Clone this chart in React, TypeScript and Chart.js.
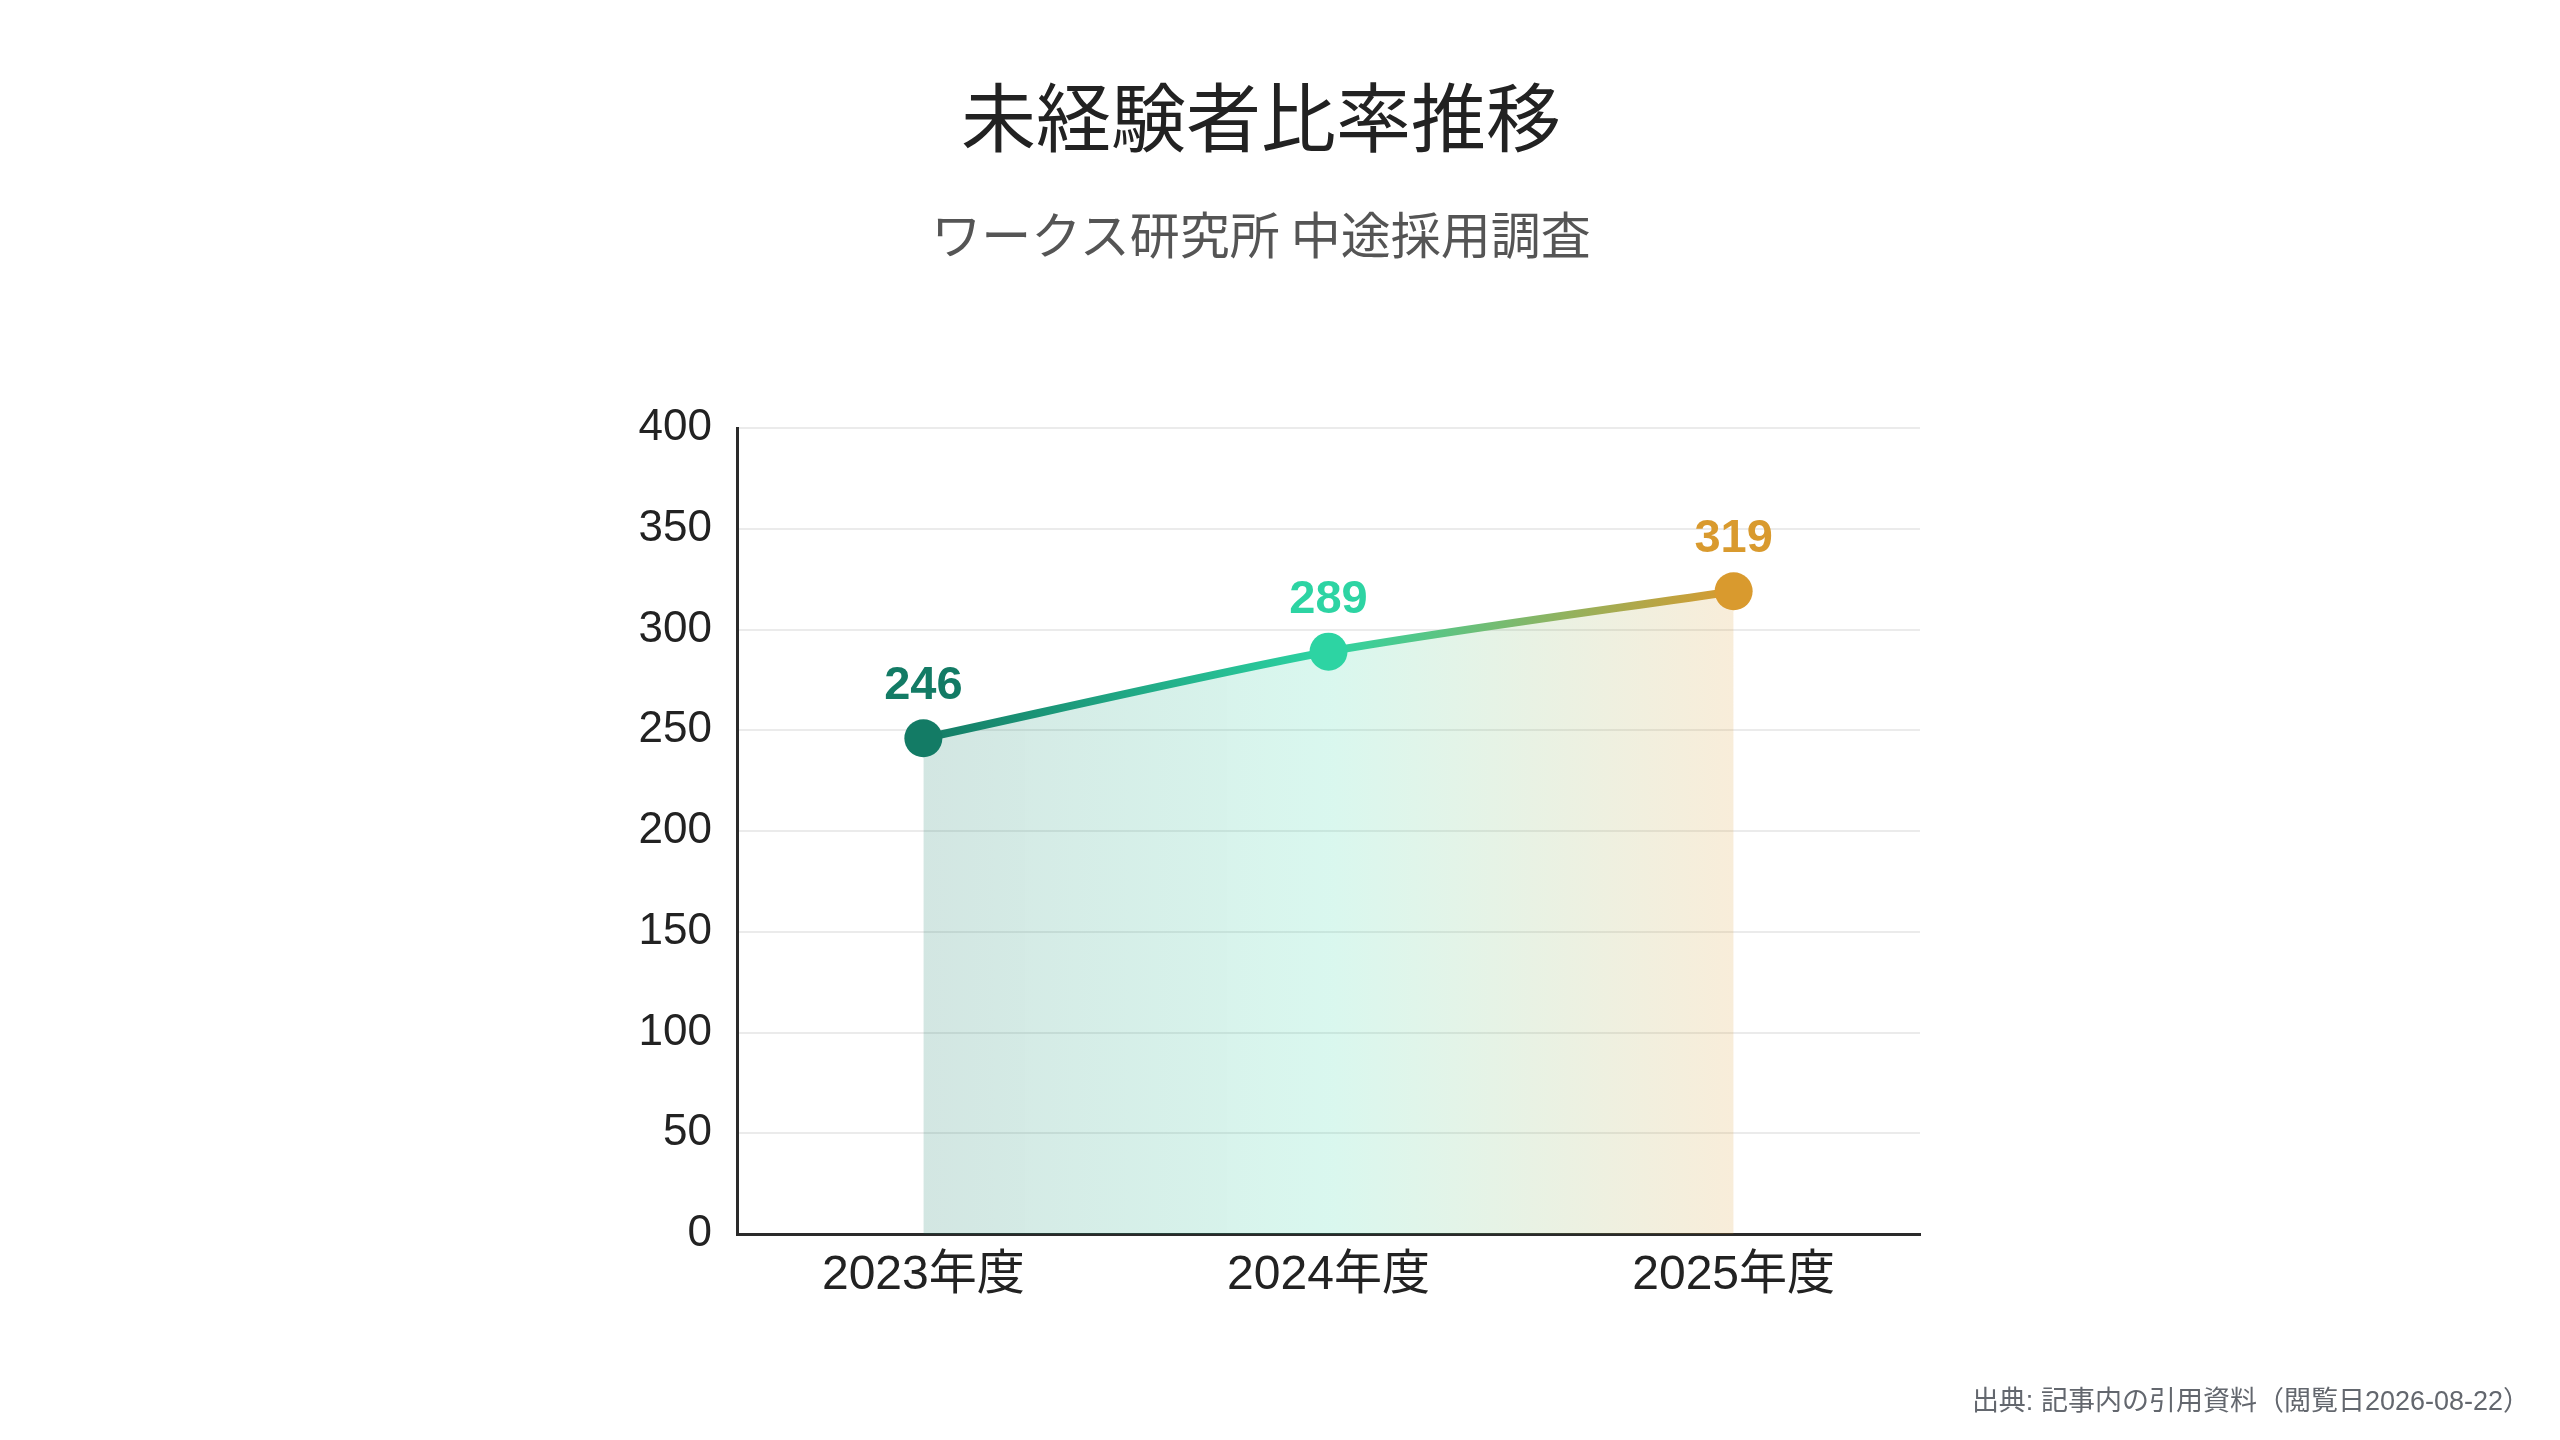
import { useEffect, useRef } from "react";
import { Chart, registerables, ChartConfiguration, Plugin } from "chart.js";

Chart.register(...registerables);

const categories = ["2023年度", "2024年度", "2025年度"];
const values = [246, 289, 319];
const pointColors = ["#137b65", "#2dd4a3", "#d99a2e"];
const fillColors = ["rgba(19,123,101,0.19)", "rgba(45,212,163,0.18)", "rgba(217,154,46,0.18)"];
const yTicks = [0, 50, 100, 150, 200, 250, 300, 350, 400];

const FONT = "'Liberation Sans', 'Noto Sans CJK JP', sans-serif";
const CJK = "'Noto Sans CJK JP', sans-serif";

// value labels above each point
const valueLabels: Plugin<"line"> = {
  id: "valueLabels",
  afterDatasetsDraw(chart) {
    const { ctx } = chart;
    const meta = chart.getDatasetMeta(0);
    ctx.save();
    ctx.font = `bold 47px ${FONT}`;
    ctx.textAlign = "center";
    ctx.textBaseline = "middle";
    meta.data.forEach((pt, i) => {
      ctx.fillStyle = pointColors[i];
      ctx.fillText(String(values[i]), pt.x, pt.y - 52);
    });
    ctx.restore();
  },
};

function horizontalGradient(chart: Chart, colors: string[]) {
  const { ctx, chartArea, scales } = chart;
  if (!chartArea || !scales.x) return colors[0];
  const x0 = scales.x.getPixelForValue(0);
  const x1 = scales.x.getPixelForValue(categories.length - 1);
  const g = ctx.createLinearGradient(x0, 0, x1, 0);
  colors.forEach((c, i) => g.addColorStop(i / (colors.length - 1), c));
  return g;
}

export default function App() {
  const canvasRef = useRef<HTMLCanvasElement>(null);
  const chartRef = useRef<Chart | null>(null);

  useEffect(() => {
    document.body.style.margin = "0";
    if (!canvasRef.current) return;
    if (chartRef.current) chartRef.current.destroy();

    const config: ChartConfiguration<"line"> = {
      type: "line",
      data: {
        datasets: [
          {
            data: values.map((v, i) => ({ x: i, y: v })),
            borderColor: (c) => horizontalGradient(c.chart, pointColors),
            backgroundColor: (c) => horizontalGradient(c.chart, fillColors),
            borderWidth: 8,
            fill: "origin",
            tension: 0.25,
            pointRadius: 19,
            pointHoverRadius: 19,
            pointBorderWidth: 0,
            pointBackgroundColor: pointColors,
          },
        ],
      },
      options: {
        animation: false,
        responsive: false,
        maintainAspectRatio: false,
        layout: { padding: { left: 617, right: 640, top: 428, bottom: 116 } },
        plugins: {
          legend: { display: false },
          tooltip: { enabled: false },
          title: { display: false },
        },
        scales: {
          x: {
            type: "linear",
            min: -0.46,
            max: categories.length - 1 + 0.46,
            afterBuildTicks: (scale) => {
              scale.ticks = categories.map((_, i) => ({ value: i }));
            },
            afterFit: (scale) => {
              scale.height = 90;
            },
            grid: { display: false, drawTicks: false },
            border: { display: true, color: "#2a2a2a", width: 3 },
            ticks: {
              padding: 13,
              color: "#222222",
              font: { family: FONT, size: 48 },
              callback: (v) => categories[Number(v)] ?? "",
            },
          },
          y: {
            min: 0,
            max: 400,
            afterBuildTicks: (scale) => {
              scale.ticks = yTicks.map((v) => ({ value: v }));
            },
            afterFit: (scale) => {
              scale.width = 120;
            },
            grid: { color: "#ebebeb", lineWidth: 2, drawTicks: false },
            border: { display: true, color: "#2a2a2a", width: 3 },
            ticks: {
              padding: 25,
              color: "#222222",
              font: { family: FONT, size: 44 },
            },
          },
        },
      },
      plugins: [valueLabels],
    };

    chartRef.current = new Chart(canvasRef.current, config);
    return () => {
      chartRef.current?.destroy();
      chartRef.current = null;
    };
  }, []);

  const centered = {
    position: "absolute" as const,
    left: 1261,
    transform: "translateX(-50%)",
    whiteSpace: "nowrap" as const,
    fontFamily: CJK,
  };

  return (
    <div style={{ position: "relative", width: 2560, height: 1440, background: "#ffffff" }}>
      <canvas ref={canvasRef} width={2560} height={1440} style={{ width: 2560, height: 1440, display: "block" }} />
      <div style={{ ...centered, top: 76, fontSize: 75, lineHeight: "75px", color: "#222222" }}>
        未経験者比率推移
      </div>
      <div style={{ ...centered, top: 207, fontSize: 50, lineHeight: "50px", color: "#555555" }}>
        ワークス研究所 中途採用調査
      </div>
      <div
        style={{
          position: "absolute",
          right: 30,
          top: 1383,
          fontFamily: FONT,
          fontSize: 27,
          color: "#63676e",
          lineHeight: "36px",
          whiteSpace: "nowrap",
        }}
      >
        出典: 記事内の引用資料（閲覧日2026-08-22）
      </div>
    </div>
  );
}
